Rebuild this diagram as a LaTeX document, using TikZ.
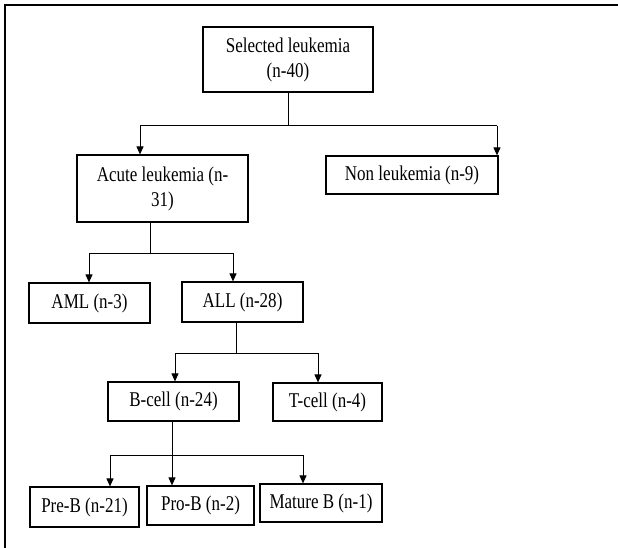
\documentclass[tikz,border=0pt]{standalone}
\usepackage{fontspec}
\setmainfont{Liberation Serif}[FakeStretch=0.81]
\usetikzlibrary{arrows.meta}

\tikzset{
  box/.style={draw, line width=1.2pt, align=center, inner sep=0pt,
    font=\fontsize{21}{25}\selectfont},
  link/.style={line width=1pt},
  arr/.style={link, -{Triangle[length=8pt,width=7pt]}}
}

\begin{document}
\begin{tikzpicture}[x=1pt, y=-1pt]
			\useasboundingbox (0,0) rectangle (618,548);

			% Frame
			\draw[line width=2.4pt] (5,548) -- (5,5) -- (618,5);

			% Boxes
			\node[box, minimum width=170pt, minimum height=65pt] (sel) at (288,59.5) {Selected leukemia\\(n-40)};
			\node[box, minimum width=171pt, minimum height=67pt] (acute) at (162.5,188.5) {Acute leukemia (n-\\31)};
			\node[box, minimum width=172pt, minimum height=38pt] (non) at (412,175) {Non leukemia (n-9)};
			\node[box, minimum width=121pt, minimum height=40pt] (aml) at (89.5,303) {AML (n-3)};
			\node[box, minimum width=121pt, minimum height=40pt] (all) at (242.5,302) {ALL (n-28)};
			\node[box, minimum width=131pt, minimum height=39pt] (bcell) at (173.5,401.5) {B-cell (n-24)};
			\node[box, minimum width=109pt, minimum height=38pt] (tcell) at (327.5,402) {T-cell (n-4)};
			\node[box, minimum width=109pt, minimum height=40pt] (preb) at (84.5,507) {Pre-B (n-21)};
			\node[box, minimum width=107pt, minimum height=39pt] (prob) at (200.5,505.5) {Pro-B (n-2)};
			\node[box, minimum width=122pt, minimum height=38pt] (mature) at (321,503) {Mature B (n-1)};

			% Junctions
			\coordinate (j1) at (288,126);
			\coordinate (j1l) at (140,126);
			\coordinate (j1r) at (497,126);
			\coordinate (j2) at (150,253);
			\coordinate (j2l) at (89,253);
			\coordinate (j2r) at (233,253);
			\coordinate (j3) at (236,353);
			\coordinate (j3l) at (175,353);
			\coordinate (j3r) at (318,353);
			\coordinate (j4l) at (110,455);
			\coordinate (j4r) at (303,455);

			% Selected leukemia
			\draw[link] (sel.south) -- (j1);
			\draw[link] (j1l) -- (j1r);
			\draw[arr] (j1l) -- (j1l |- acute.north);
			\draw[arr] (j1r) -- (j1r |- non.north);

			% Acute leukemia
			\draw[link] (j2 |- acute.south) -- (j2);
			\draw[link] (j2l) -- (j2r);
			\draw[arr] (j2l) -- (j2l |- aml.north);
			\draw[arr] (j2r) -- (j2r |- all.north);

			% ALL
			\draw[link] (j3 |- all.south) -- (j3);
			\draw[link] (j3l) -- (j3r);
			\draw[arr] (j3l) -- (j3l |- bcell.north);
			\draw[arr] (j3r) -- (j3r |- tcell.north);

			% B-cell
			\draw[arr] ([xshift=-1.5pt]bcell.south) -- ([xshift=-1.5pt]bcell.south |- prob.north);
			\draw[link] (j4l) -- (j4r);
			\draw[arr] (j4l) -- (j4l |- preb.north);
			\draw[arr] (j4r) -- (j4r |- mature.north);
\end{tikzpicture}
\end{document}
